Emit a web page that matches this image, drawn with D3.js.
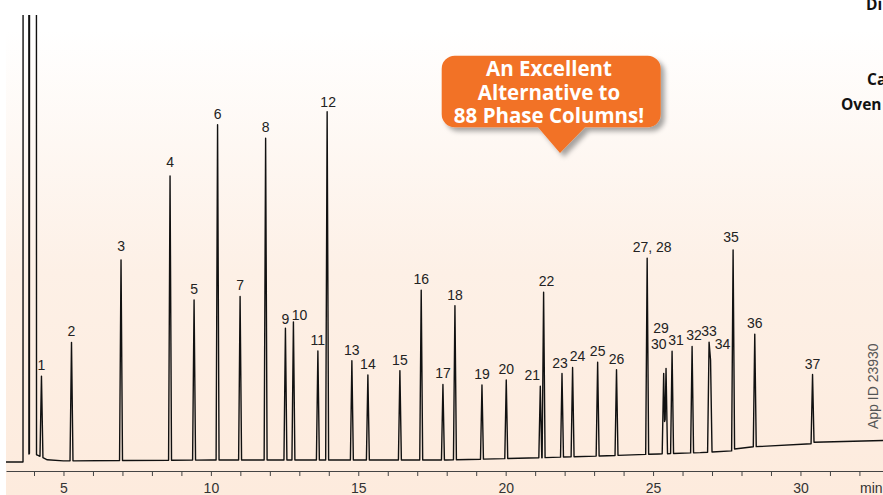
<!DOCTYPE html>
<html><head><meta charset="utf-8">
<script src="https://cdn.jsdelivr.net/npm/d3@7"></script>
<style>body{margin:0;background:#fff}svg{display:block}</style>
</head><body>
<svg id="chart" width="883" height="495"></svg>
<script>
// ---------- data ----------
const peakLabels = ["1","2","3","4","5","6","7","8","9","10","11","12","13","14","15","16","17","18","19","20",
  "21","22","23","24","25","26","27, 28","30","29","31","32","33","34","35","36","37"];
// retention time (min)
const peakTimes = [4.253,5.272,6.952,8.615,9.430,10.227,10.991,11.857,12.529,12.800,13.630,13.944,14.783,15.326,
  16.412,17.135,17.872,18.279,19.196,20.020,21.175,21.287,21.911,22.270,23.120,23.760,24.800,25.360,25.440,25.645,
  26.324,26.900,26.950,27.715,28.450,30.410];
// height above baseline (signal, arbitrary units; 100 = top of frame)
const peakHeights = [18.1,26.5,44.9,63.6,35.8,75.0,36.6,72.0,29.5,30.9,24.4,77.9,22.2,19.0,20.0,38.0,16.9,34.5,16.6,17.6,
  16.0,37.0,18.7,20.0,21.0,19.2,43.9,18.0,19.1,22.9,23.8,24.6,20.6,44.8,25.2,15.4];
// solvent peaks (off scale)
const solventTimes = [3.727,3.965];
const solventHeights = [5000,5000];
const solventHalfWidths = [0.10,0.12];
// baseline drift
const baselineTimes  = [3.05,3.62,3.85,4.10,4.45,5.0,10.0,18.0,21.2,23.2,25.2,26.6,27.70,27.75,28.4,30.40,30.45,32.8];
const baselineLevels = [0.0,0.0,2.0,1.6,0.5,0.25,0.45,0.45,0.95,1.35,1.8,2.1,2.5,2.9,3.4,4.1,4.4,4.8];
// axis
const xTickValues = d3.range(4,33);
const xTickLabels = ["5","10","15","20","25","30"];
const xUnit = "min";
// texts
const calloutLines = ["An Excellent","Alternative to","88 Phase Columns!"];
const sideTexts = ["Di","Ca","Oven"];
const appId = "App ID 23930";

// ---------- drawing ----------
const W = 883, H = 495;
const svg = d3.select("#chart");
const defs = svg.append("defs");

const grad = defs.append("linearGradient").attr("id","bg").attr("x1",0).attr("y1",0).attr("x2",0).attr("y2",1);
grad.append("stop").attr("offset","0").attr("stop-color","#ffffff");
grad.append("stop").attr("offset","0.06").attr("stop-color","#ffffff");
grad.append("stop").attr("offset","0.55").attr("stop-color","#fdf0e6");
grad.append("stop").attr("offset","1").attr("stop-color","#fdebdd");
svg.append("rect").attr("x",6).attr("y",0).attr("width",W-6).attr("height",H).attr("fill","url(#bg)");

const x = d3.scaleLinear().domain([3.05,32.8]).range([6,883]);
const y = d3.scaleLinear().domain([0,100]).range([462,15]);

defs.append("clipPath").attr("id","plotclip").append("rect")
  .attr("x",6).attr("y",15).attr("width",W-6).attr("height",460);

const baseAt = t => {
  if (t <= baselineTimes[0]) return baselineLevels[0];
  for (let i=1;i<baselineTimes.length;i++){
    if (t <= baselineTimes[i]) {
      const f=(t-baselineTimes[i-1])/(baselineTimes[i]-baselineTimes[i-1]);
      return baselineLevels[i-1]+f*(baselineLevels[i]-baselineLevels[i-1]);
    }
  }
  return baselineLevels[baselineLevels.length-1];
};
const HW = 0.05;
const peaks = peakTimes.map((t,i)=>({t, h:peakHeights[i], w:HW, label:peakLabels[i]}))
  .concat(solventTimes.map((t,i)=>({t, h:solventHeights[i], w:solventHalfWidths[i], label:null})));
const signal = t => {
  let s = baseAt(t);
  peaks.forEach(p=>{ const d=Math.abs(t-p.t); if (d<p.w) s += p.h*(1-d/p.w); });
  return s;
};
let knots = baselineTimes.slice();
peaks.forEach(p=>{ knots.push(p.t-p.w, p.t, p.t+p.w); });
knots = Array.from(new Set(knots)).filter(t=>t>=3.05 && t<=32.8).sort((a,b)=>a-b);
const trace = knots.map(t=>[t, signal(t)]);

svg.append("path").attr("clip-path","url(#plotclip)")
  .attr("d", d3.line().x(d=>x(d[0])).y(d=>y(d[1]))(trace))
  .attr("fill","none").attr("stroke","#111").attr("stroke-width",1.4).attr("stroke-linejoin","round");

// peak labels
const nudge = {"10":[6,4],"9":[0,2],"21":[-8,0],"22":[3,0],"23":[-2,0],"24":[5,0],"27, 28":[5,0],
  "29":[-5,-29],"30":[-5,-18],"31":[4,0],"32":[2,0],"34":[12,-5],"35":[-2,-2],"3":[0,-3],"4":[0,-3],"12":[1,1]};
svg.append("g").selectAll("text").data(peaks.filter(p=>p.label)).join("text")
  .attr("x", p=>x(p.t)+(nudge[p.label]?nudge[p.label][0]:0))
  .attr("y", p=>y(baseAt(p.t)+p.h)-6+(nudge[p.label]?nudge[p.label][1]:0))
  .attr("text-anchor","middle")
  .attr("font-family","'Liberation Sans',Arial,sans-serif").attr("font-size",14).attr("fill","#222")
  .text(p=>p.label);

// axis
const axis = d3.axisBottom(x).tickValues(xTickValues).tickSize(5).tickSizeOuter(0)
  .tickFormat(d=> xTickLabels.includes(String(d)) ? String(d) : "");
const ag = svg.append("g").attr("transform","translate(0,471)").call(axis);
ag.select(".domain").attr("stroke","#444");
ag.selectAll(".tick line").attr("stroke","#444");
ag.selectAll(".tick text").attr("font-family","'Liberation Sans',Arial,sans-serif").attr("font-size",14)
  .attr("fill","#333").attr("dy","0").attr("y",22);
svg.append("text").attr("x",860).attr("y",493).attr("font-family","'Liberation Sans',Arial,sans-serif")
  .attr("font-size",14).attr("fill","#333").text(xUnit);

// app id
svg.append("text").attr("transform","translate(878,429) rotate(-90)")
  .attr("font-family","'Liberation Sans',Arial,sans-serif").attr("font-size",14).attr("fill","#555").text(appId);

// side texts (cut by the right edge, as in the reference)
const sidePos = [[866,10],[867,85],[841,110]];
svg.append("g").selectAll("text").data(sideTexts).join("text")
  .attr("x",(d,i)=>sidePos[i][0]).attr("y",(d,i)=>sidePos[i][1])
  .attr("font-family","'Open Sans',sans-serif").attr("font-weight",700).attr("font-size",15.5).attr("fill","#111")
  .text(d=>d);

// callout
const f = defs.append("filter").attr("id","shadow").attr("x","-20%").attr("y","-20%").attr("width","140%").attr("height","150%");
f.append("feDropShadow").attr("dx",4).attr("dy",4).attr("stdDeviation",2.5).attr("flood-color","#000").attr("flood-opacity",0.35);
const L=441.7,R=660.7,T=55.7,B=127.3,r=13;
const p = d3.path();
p.moveTo(L+r,T); p.lineTo(R-r,T); p.arcTo(R,T,R,T+r,r); p.lineTo(R,B-r); p.arcTo(R,B,R-r,B,r);
p.lineTo(585,B); p.lineTo(560,153); p.lineTo(538,B);
p.lineTo(L+r,B); p.arcTo(L,B,L,B-r,r); p.lineTo(L,T+r); p.arcTo(L,T,L+r,T,r); p.closePath();
svg.append("path").attr("d",p.toString()).attr("fill","#f27226").attr("filter","url(#shadow)");
const ct = svg.append("text").attr("text-anchor","middle")
  .attr("font-family","'Open Sans',sans-serif").attr("font-weight",700).attr("font-size",20.5).attr("fill","#fff");
ct.selectAll("tspan").data(calloutLines).join("tspan")
  .attr("x",549).attr("y",(d,i)=>76+i*23.5).text(d=>d);
</script>
</body></html>
